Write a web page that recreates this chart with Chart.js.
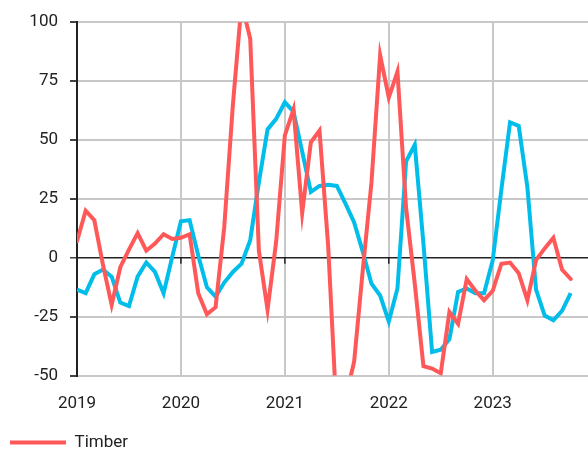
<!DOCTYPE html>
<html>
<head>
<meta charset="utf-8">
<script src="https://cdn.jsdelivr.net/npm/chart.js@4"></script>
<style>
  html, body { margin: 0; padding: 0; background: #fff; }
  #wrap { width: 588px; height: 453px; position: relative; }
</style>
</head>
<body>
<div id="wrap"><canvas id="grafico"></canvas></div>
<script>
// monthly series, Jan 2019 - Oct 2023
const startYear = 2019;
const yearTicks = [2019, 2020, 2021, 2022, 2023];
const yTicks = [-50, -25, 0, 25, 50, 75, 100];

const timber = [
    7, 20, 16, -3, -20, -4, 3.5, 10.5, 3, 6, 10, 8,
    8.5, 10, -15, -24, -21, 13, 65, 108, 93, 3, -22, 7,
    52, 63, 19, 49, 54, 5, -68, -60, -44, -5, 32, 86,
    68, 79, 21, -11, -46, -47, -49, -23, -28, -9, -14, -18,
    -14, -2.5, -2, -6.5, -18, -1, 4, 8.5, -5, -9
];

const lumber = [
    -13.5, -15, -7, -5, -8, -19, -20.5, -8, -2, -6, -15, 0.5,
    15.5, 16, 1, -12.5, -16.5, -10.5, -6, -2.5, 7.5, 32, 54.5, 59,
    66, 62, 45, 28, 30.5, 31, 30.5, 23, 15, 2.5, -11, -16,
    -27, -13, 41, 48, 6, -40, -39, -34.5, -14.5, -13, -15, -15,
    -1, 29, 57.5, 56, 30, -13.5, -24.5, -26.5, -22.5, -15
];

const vermelho = '#ff5858';
const azul = '#00bdea';
const cinza = '#c8c8c8';
const texto = '#222222';

// small black marks under the zero line at each year
const marcasZero = {
    id: 'marcasZero',
    beforeDatasetsDraw(chart) {
        const x = chart.scales.x;
        const y = chart.scales.y;
        const y0 = y.getPixelForValue(0);
        const ctx = chart.ctx;
        ctx.save();
        ctx.strokeStyle = texto;
        ctx.lineWidth = 1.5;
        yearTicks.slice(1).forEach(ano => {
            const px = x.getPixelForValue((ano - startYear) * 12);
            ctx.beginPath();
            ctx.moveTo(px, y0);
            ctx.lineTo(px, y0 + 6);
            ctx.stroke();
        });
        ctx.restore();
    }
};

const ctx = document.getElementById('grafico').getContext('2d');
new Chart(ctx, {
    type: 'line',
    data: {
        datasets: [
            {
                label: 'Timber',
                data: timber.map((v, i) => ({ x: i, y: v })),
                borderColor: vermelho,
                backgroundColor: vermelho,
                borderWidth: 4,
                borderCapStyle: 'round',
                pointRadius: 0,
                tension: 0
            },
            {
                label: 'Lumber',
                data: lumber.map((v, i) => ({ x: i, y: v })),
                borderColor: azul,
                backgroundColor: azul,
                borderWidth: 4,
                pointRadius: 0,
                tension: 0
            }
        ]
    },
    options: {
        responsive: true,
        maintainAspectRatio: false,
        animation: false,
        layout: { padding: { top: 9, right: 0, left: 0, bottom: -8 } },
        plugins: {
            tooltip: { enabled: false },
            legend: {
                display: true,
                position: 'bottom',
                align: 'start',
                labels: {
                    filter: item => item.text === 'Timber',
                    usePointStyle: true,
                    pointStyle: 'line',
                    pointStyleWidth: 56,
                    boxHeight: 17,
                    color: texto,
                    font: { family: 'Roboto', size: 17 },
                    padding: 10
                }
            }
        },
        scales: {
            x: {
                type: 'linear',
                min: 0,
                max: 59,
                afterBuildTicks: scale => {
                    scale.ticks = yearTicks.map(ano => ({ value: (ano - startYear) * 12 }));
                },
                afterFit: scale => { scale.height -= 8; },
                ticks: {
                    callback: v => String(startYear + v / 12),
                    color: texto,
                    font: { family: 'Roboto', size: 17 },
                    padding: 18,
                    maxRotation: 0
                },
                grid: { color: cinza, lineWidth: 2, drawTicks: false },
                border: { display: false }
            },
            y: {
                min: -50,
                max: 100,
                afterBuildTicks: scale => {
                    scale.ticks = yTicks.map(v => ({ value: v }));
                },
                afterFit: scale => { scale.width = 77; },
                ticks: {
                    color: texto,
                    font: { family: 'Roboto', size: 17 },
                    padding: 12
                },
                grid: {
                    color: c => c.tick && c.tick.value === 0 ? texto : cinza,
                    lineWidth: c => c.tick && c.tick.value === 0 ? 1.5 : 2,
                    tickColor: '#444',
                    tickLength: 7
                },
                border: { color: texto, width: 2 }
            }
        }
    },
    plugins: [marcasZero]
});
</script>
</body>
</html>
